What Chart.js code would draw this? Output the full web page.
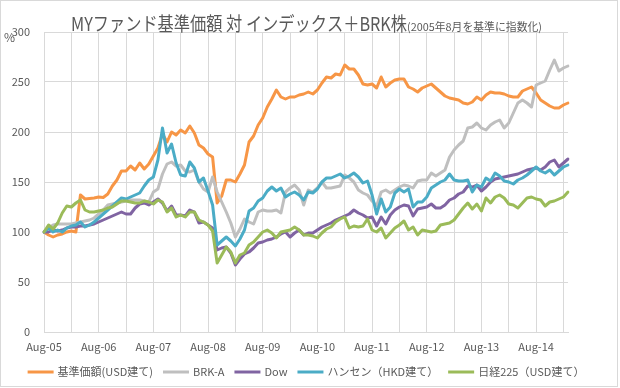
<!DOCTYPE html>
<html>
<head>
<meta charset="utf-8">
<script src="https://cdn.jsdelivr.net/npm/chart.js@4.4.1/dist/chart.umd.min.js"></script>
<style>
    html, body { margin: 0; padding: 0; background: #fff; }
    #fundChart { display: block; }
</style>
</head>
<body>
<canvas id="fundChart" width="620" height="388"></canvas>
<script>
// Monthly index values, Aug-05 = 100
const fundUsd = [100, 97, 95, 97, 98, 100, 101, 100, 137, 133,
    133.5, 134, 135, 134.5, 138, 146, 152, 161, 161, 166,
    162, 169, 163, 168, 176, 184, 198, 190, 200, 197,
    202, 199, 206, 199, 187, 184, 178, 175, 129, 136,
    152, 152, 150, 158, 167, 190, 196, 207, 214, 225,
    233, 242, 235, 233, 235, 235, 237, 238, 240, 238,
    242, 249, 255, 254, 258, 257, 267, 263, 263, 257,
    248, 247, 248, 244, 255, 245, 249, 252, 253, 253,
    245, 243, 240, 244, 246, 248, 244, 240, 236, 234,
    233, 232, 229, 228, 230, 235, 232, 237, 240, 239,
    239, 238, 236, 235, 235, 241, 243, 245, 239, 232,
    229, 226, 224, 224, 227, 229];

const brkA = [100, 104, 107, 108, 108, 108, 108, 109, 110, 111,
    112, 114, 118, 122, 127, 128, 129, 130, 131, 132,
    132, 132, 131, 130, 140, 143, 158, 168, 170, 166,
    167, 161, 160, 162, 150, 143, 140, 155, 140, 130,
    120, 109, 95, 103, 113, 110, 108, 120, 122, 121,
    121, 122, 119, 140, 144, 147, 142, 127, 142, 140,
    144, 150, 144, 144, 145, 146, 157, 154, 150, 142,
    139, 137, 131, 126, 140, 142, 139, 142, 145, 147,
    146, 144, 151, 152, 152, 159, 156, 159, 162, 175,
    182, 187, 191, 204, 205, 209, 204, 202, 207, 210,
    212, 204, 209, 219, 229, 232, 229, 225, 247, 249,
    251, 262, 272, 261, 264, 266];

const dow = [100, 100, 102, 101, 102, 104, 105, 105, 106, 106,
    107, 108, 110, 112, 114, 116, 118, 120, 118, 118,
    124, 128, 129, 127, 130, 133, 129, 121, 126, 117,
    117, 116, 122, 120, 109, 110, 107, 104, 82, 84,
    85, 79, 67, 73, 78, 80, 84, 89, 90, 92,
    93, 95, 98, 100, 95, 99, 102, 97, 99, 99,
    102, 105, 107, 109, 112, 114, 116, 118, 122, 119,
    117, 114, 115, 106, 115, 108, 117, 122, 125, 127,
    126, 116, 123, 124, 125, 128, 124, 124, 127, 132,
    134, 138, 140, 146, 145, 147, 141, 145, 150, 153,
    154, 155, 156, 157, 158, 160, 162, 163, 164, 162,
    165, 170, 172, 165, 169, 173];

const hangSeng = [100, 104, 100, 102, 100, 104, 106, 107, 110, 105,
    107, 110, 114, 118, 122, 126, 130, 134, 133, 135,
    137, 139, 146, 152, 155, 172, 204, 179, 188, 169,
    157, 156, 170, 164, 150, 154, 141, 127, 87, 91,
    95, 91, 86, 93, 102, 121, 124, 131, 134, 141,
    145, 141, 144, 135, 138, 140, 137, 132, 140, 139,
    143, 150, 154, 154, 156, 158, 154, 156, 159, 155,
    149, 151, 137, 118, 133, 120, 125, 139, 143, 140,
    143, 125, 130, 130, 135, 144, 147, 150, 152, 158,
    152, 151, 151, 152, 140, 147, 145, 154, 151, 159,
    156, 151, 150, 148, 152, 154, 157, 161, 165, 161,
    159, 162, 157, 161, 165, 167];

const nikkeiUsd = [100, 107, 103, 109, 119, 126, 125, 129, 132, 122,
    120, 120, 121, 122, 124, 125, 128, 131, 131, 130,
    129, 129, 131, 130, 128, 132, 130, 120, 124, 115,
    117, 115, 120, 120, 112, 110, 107, 101, 69, 77,
    85, 80, 69, 77, 79, 87, 90, 95, 100, 102,
    99, 94, 100, 101, 102, 105, 102, 97, 97, 96,
    94, 99, 103, 105, 110, 113, 115, 104, 106, 105,
    106, 113, 102, 100, 104, 94, 99, 104, 107, 111,
    102, 105, 97, 102, 101, 100, 101, 107, 108, 109,
    112, 118, 124, 129, 123, 128, 121, 134, 129, 135,
    137, 134, 128, 127, 124, 129, 134, 135, 133, 132,
    126, 130, 131, 133, 135, 140];

const seriesLabels = ["基準価額(USD建て)", "BRK-A", "Dow", "ハンセン（HKD建て）", "日経225（USD建て）"];
const tickLabels = ["Aug-05", "Aug-06", "Aug-07", "Aug-08", "Aug-09",
    "Aug-10", "Aug-11", "Aug-12", "Aug-13", "Aug-14"];
const monthNames = ["Jan", "Feb", "Mar", "Apr", "May", "Jun",
    "Jul", "Aug", "Sep", "Oct", "Nov", "Dec"];

// one category per month starting Aug 2005
const months = fundUsd.map((v, i) => {
    const m = (7 + i) % 12;
    const y = 5 + Math.floor((7 + i) / 12);
    return monthNames[m] + "-" + String(y).padStart(2, "0");
});

const JP_FONT = '"Noto Sans CJK JP", "Noto Sans", sans-serif';
const TEXT_COLOR = "#595959";
const GRID_COLOR = "#D9D9D9";

// title, "%" unit and legend drawn like the Excel original
const decorPlugin = {
    id: "decor",
    beforeDraw(chart) {
        const ctx = chart.ctx;
        ctx.save();
        ctx.fillStyle = "#fff";
        ctx.fillRect(0, 0, chart.width, chart.height);
        ctx.strokeStyle = GRID_COLOR;
        ctx.lineWidth = 1;
        ctx.strokeRect(0.5, 0.5, chart.width - 3, chart.height - 2);
        ctx.restore();
    },
    afterDraw(chart) {
        const ctx = chart.ctx;
        const area = chart.chartArea;
        ctx.save();
        ctx.fillStyle = TEXT_COLOR;
        ctx.textBaseline = "alphabetic";
        ctx.textAlign = "left";

        // title
        ctx.font = "19px " + JP_FONT;
        ctx.fillText("MYファンド基準価額 対 インデックス＋BRK株", 71, 31, 336);
        ctx.font = "11px " + JP_FONT;
        ctx.fillText("(2005年8月を基準に指数化)", 407, 31, 135);

        // unit
        ctx.font = "12px " + JP_FONT;
        ctx.fillText("%", 4, 42);

        // legend
        ctx.font = "11px " + JP_FONT;
        ctx.textBaseline = "middle";
        const lineLen = 26, gapText = 4, gapItem = 10;
        const items = chart.data.datasets.map(ds => ({
            label: ds.label,
            color: ds.borderColor,
            w: ctx.measureText(ds.label).width
        }));
        const total = items.reduce((s, it) => s + lineLen + gapText + it.w, 0) + gapItem * (items.length - 1);
        let x = (area.left + area.right) / 2 - total / 2;
        const y = 372;
        items.forEach(it => {
            ctx.strokeStyle = it.color;
            ctx.lineWidth = 3;
            ctx.lineCap = "butt";
            ctx.beginPath();
            ctx.moveTo(x, y);
            ctx.lineTo(x + lineLen, y);
            ctx.stroke();
            x += lineLen + gapText;
            ctx.fillStyle = TEXT_COLOR;
            ctx.fillText(it.label, x, y);
            x += it.w + gapItem;
        });
        ctx.restore();
    }
};

const seriesData = [fundUsd, brkA, dow, hangSeng, nikkeiUsd];
const seriesColors = ["#F79646", "#BFBFBF", "#8064A2", "#4BACC6", "#9BBB59"];

new Chart(document.getElementById("fundChart").getContext("2d"), {
    type: "line",
    data: {
        labels: months,
        datasets: seriesData.map((values, i) => ({
            label: seriesLabels[i],
            data: values,
            borderColor: seriesColors[i],
            backgroundColor: seriesColors[i],
            borderWidth: 3,
            pointRadius: 0,
            tension: 0,
            fill: false,
            borderJoinStyle: "round",
            borderCapStyle: "round",
            order: seriesData.length - i   // later series on top, as in Excel
        }))
    },
    options: {
        responsive: false,
        animation: false,
        layout: { padding: { top: 32, right: 52, bottom: 0, left: 0 } },
        plugins: {
            legend: { display: false },
            title: { display: false },
            tooltip: { enabled: false }
        },
        scales: {
            x: {
                offset: false,
                grid: {
                    drawTicks: false,
                    color: c => (c.index % 6 === 0 ? GRID_COLOR : "rgba(0,0,0,0)")
                },
                border: { color: GRID_COLOR },
                ticks: {
                    autoSkip: false,
                    maxRotation: 0,
                    minRotation: 0,
                    padding: 8,
                    color: TEXT_COLOR,
                    font: { family: JP_FONT, size: 11 },
                    callback: (value, index) => (index % 12 === 0 ? tickLabels[index / 12] : "")
                },
                afterFit: scale => { scale.height = 56; }
            },
            y: {
                min: 0,
                max: 300,
                grid: { drawTicks: false, color: GRID_COLOR },
                border: { display: false },
                ticks: {
                    stepSize: 50,
                    padding: 14,
                    color: TEXT_COLOR,
                    font: { family: JP_FONT, size: 11 }
                },
                afterFit: scale => { scale.width = 44; }
            }
        }
    },
    plugins: [decorPlugin]
});
</script>
</body>
</html>
